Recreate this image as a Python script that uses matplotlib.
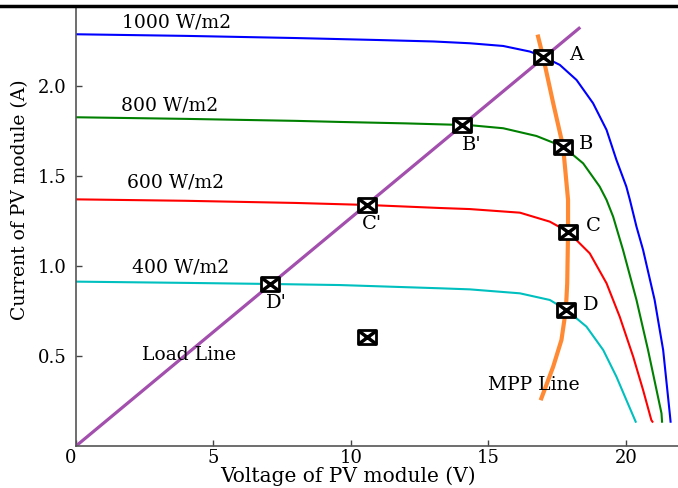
import matplotlib
matplotlib.use("Agg")
import matplotlib.pyplot as plt
from matplotlib.lines import Line2D
from matplotlib.path import Path

plt.rcParams['font.family'] = ['DejaVu Serif']

# I-V curves (voltage V, current A)
v_1000 = [0, 4, 8, 11, 13, 14.33, 15.54, 16.51, 16.99, 17.6, 18.21, 18.81, 19.3, 19.66, 20.02, 20.15, 20.39, 20.63, 21.05, 21.36, 21.6, 21.63]
i_1000 = [2.287, 2.278, 2.266, 2.255, 2.247, 2.237, 2.222, 2.191, 2.163, 2.117, 2.033, 1.904, 1.756, 1.589, 1.441, 1.367, 1.218, 1.089, 0.811, 0.533, 0.181, 0.135]

v_800 = [0, 4, 8, 9.6, 12, 14.33, 15.54, 16.75, 17.72, 18.45, 19.05, 19.3, 19.54, 19.9, 20.39, 20.81, 21.3, 21.32]
i_800 = [1.826, 1.817, 1.806, 1.80, 1.792, 1.782, 1.765, 1.722, 1.663, 1.57, 1.441, 1.367, 1.274, 1.089, 0.811, 0.533, 0.181, 0.135]

v_600 = [0, 4, 8, 10.57, 13.24, 14.33, 16.15, 17.24, 17.9, 18.69, 19.3, 19.78, 20.27, 20.63, 20.93, 20.97]
i_600 = [1.37, 1.362, 1.35, 1.339, 1.322, 1.316, 1.296, 1.246, 1.19, 1.07, 0.904, 0.718, 0.496, 0.311, 0.144, 0.135]

v_400 = [0, 4, 7.05, 9.6, 13.24, 14.33, 16.15, 17.24, 17.84, 18.57, 19.18, 19.66, 20.02, 20.36]
i_400 = [0.913, 0.906, 0.9, 0.894, 0.876, 0.87, 0.848, 0.811, 0.756, 0.663, 0.533, 0.385, 0.256, 0.135]

load_v = [0, 18.3]
load_i = [0, 2.32]

mpp_v = [16.81, 16.99, 17.36, 17.72, 17.9, 17.9, 17.87, 17.82, 17.66, 17.36, 16.93]
mpp_i = [2.274, 2.163, 1.904, 1.663, 1.367, 1.19, 0.904, 0.756, 0.589, 0.441, 0.265]

# operating points A, B, C, D, B', C', D' and the lone marker
pts_v = [16.99, 17.72, 17.9, 17.84, 14.05, 10.57, 7.05, 10.57]
pts_i = [2.163, 1.663, 1.19, 0.756, 1.783, 1.339, 0.9, 0.604]

pt_labels = ["A", "B", "C", "D", "B'", "C'", "D'"]
pt_label_v = [18.2, 18.57, 18.81, 18.72, 14.39, 10.75, 7.3]
pt_label_i = [2.172, 1.68, 1.222, 0.783, 1.672, 1.233, 0.793]

irr_labels = ["1000 W/m2", "800 W/m2", "600 W/m2", "400 W/m2"]
irr_label_v = [1.67, 1.64, 1.85, 2.03]
irr_label_i = [2.35, 1.894, 1.461, 0.989]

x_ticks = [0, 5, 10, 15, 20]
y_ticks = [0.5, 1.0, 1.5, 2.0]

# wide box marker with a cross in it
box = Path([(-1, -0.75), (1, -0.75), (1, 0.75), (-1, 0.75), (-1, -0.75)],
           [Path.MOVETO, Path.LINETO, Path.LINETO, Path.LINETO, Path.CLOSEPOLY])
cross = Path([(-1, -0.75), (1, 0.75), (-1, 0.75), (1, -0.75)],
             [Path.MOVETO, Path.LINETO, Path.MOVETO, Path.LINETO])

W, H = 678, 488
fig = plt.figure(figsize=(W / 100, H / 100), dpi=100)
ax = fig.add_axes([76 / W, 42 / H, 602 / W, 440 / H])

ax.plot(v_1000, i_1000, color='#0000ff', lw=1.5)
ax.plot(v_800, i_800, color='#008000', lw=1.5)
ax.plot(v_600, i_600, color='#ff0000', lw=1.5)
ax.plot(v_400, i_400, color='#00bfbf', lw=1.5)
ax.plot(load_v, load_i, color='#a24fad', lw=2.3)
ax.plot(mpp_v, mpp_i, color='#ff8a33', lw=3.0)

ax.plot(pts_v, pts_i, ls='none', marker=box, ms=13, mfc='white', mec='black', mew=2, zorder=5)
ax.plot(pts_v, pts_i, ls='none', marker=cross, ms=13, mfc='none', mec='black', mew=2.5, zorder=6)

for lab, x, y in zip(pt_labels, pt_label_v, pt_label_i):
    ax.text(x, y, lab, fontsize=14, ha='center', va='center')
for lab, x, y in zip(irr_labels, irr_label_v, irr_label_i):
    ax.text(x, y, lab, fontsize=13.5, ha='left', va='center')
ax.text(2.4, 0.506, "Load Line", fontsize=13.5, ha='left', va='center')
ax.text(14.98, 0.339, "MPP Line", fontsize=13.5, ha='left', va='center')

ax.set_xlim(0, 21.9)
ax.set_ylim(0, 2.444)
ax.set_xticks(x_ticks)
ax.set_xticklabels([str(t) for t in x_ticks])
ax.set_yticks(y_ticks)
ax.set_yticklabels([f"{t:.1f}" for t in y_ticks])
ax.get_xticklabels()[0].set_ha('right')
ax.tick_params(direction='in', length=4, width=1, color='#444444', labelsize=13)
ax.tick_params(axis='y', pad=7)
ax.tick_params(axis='x', pad=2)

for s in ['top', 'right']:
    ax.spines[s].set_visible(False)
for s in ['left', 'bottom']:
    ax.spines[s].set_color('#555555')
    ax.spines[s].set_linewidth(1.2)

ax.set_xlabel("Voltage of PV module (V)", fontsize=14.5)
ax.set_ylabel("Current of PV module (A)", fontsize=13.5)
ax.xaxis.set_label_coords(272 / 602, -30 / 440)
ax.xaxis.label.set_va('center')
ax.yaxis.set_label_coords(-56 / 602, 246 / 440)
ax.yaxis.label.set_va('center')

# thick rule across the top of the figure
fig.add_artist(Line2D([0, 1], [1 - 6 / H, 1 - 6 / H], transform=fig.transFigure, color='black', lw=2.5))

fig.savefig("out.png", dpi=100)
plt.close(fig)
